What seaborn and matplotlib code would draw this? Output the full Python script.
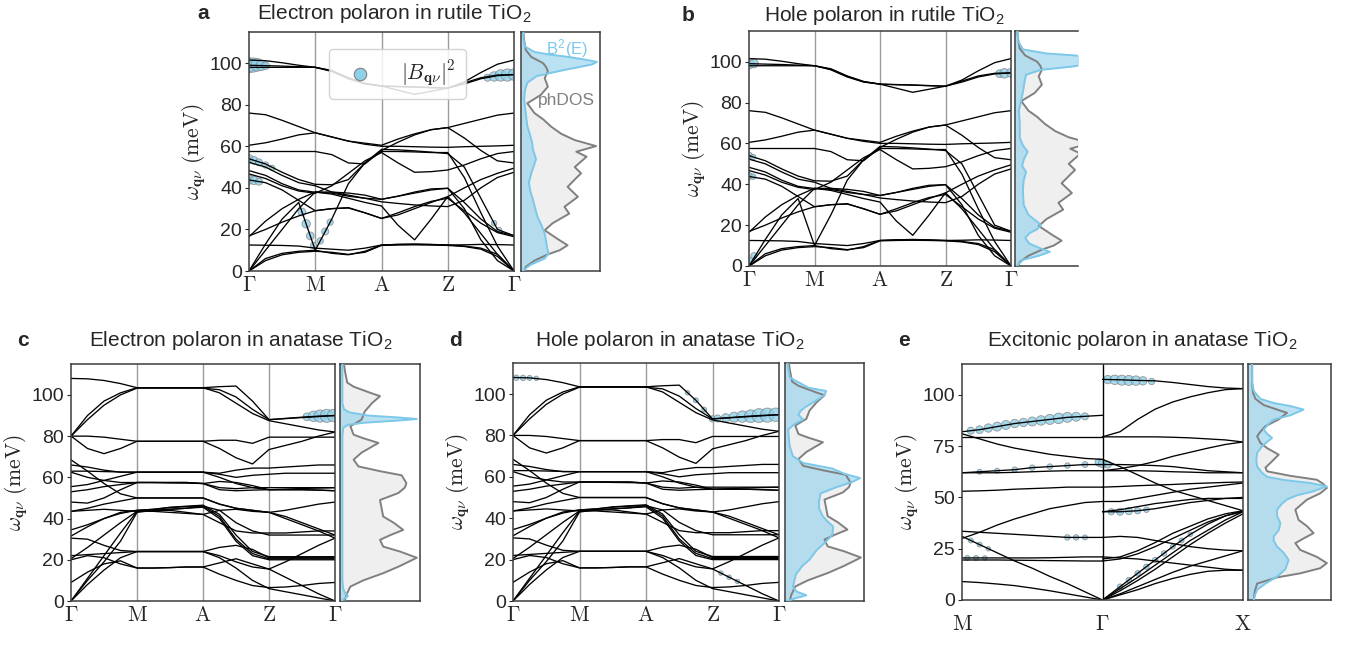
import numpy as np
import pandas as pd
import matplotlib
matplotlib.use("Agg")
import matplotlib.pyplot as plt
import seaborn as sns

# ========== DATA ==========
# k index: Gamma=0, M=4, A=8, Z=12, Gamma=16 (3 sample points in between)
K_PATH = list(range(17))
PATH_LABELS = [r"$\Gamma$", r"$\mathrm{M}$", r"$\mathrm{A}$", r"$\mathrm{Z}$", r"$\Gamma$"]

rutile_bands = [
    [101.5, 101.2, 100.2, 99.0, 98.0, 96.5, 93.0, 90.3, 89.0, 88.8, 88.6, 88.3, 88.0, 91.0, 95.5, 99.5, 101.5],
    [99.0, 98.8, 98.6, 98.3, 98.0, 96.0, 92.5, 90.0, 89.0, 87.0, 85.0, 86.5, 88.0, 90.0, 92.5, 94.0, 94.5],
    [98.0, 98.0, 98.0, 98.0, 98.0, 96.3, 92.8, 90.2, 89.0, 88.7, 88.5, 88.2, 88.0, 90.5, 93.0, 94.3, 94.5],
    [76.0, 75.2, 72.5, 69.5, 66.5, 64.5, 62.5, 61.5, 60.5, 63.5, 66.0, 68.0, 69.0, 71.0, 73.0, 75.0, 76.0],
    [60.5, 61.7, 63.5, 65.5, 66.5, 64.5, 62.5, 61.0, 60.0, 60.0, 59.8, 59.6, 59.5, 59.8, 60.0, 60.2, 60.5],
    [57.5, 57.5, 57.5, 57.5, 57.5, 56.0, 52.0, 51.5, 58.0, 62.0, 65.5, 68.0, 69.0, 64.0, 58.0, 53.0, 52.0],
    [54.0, 51.5, 47.5, 44.0, 41.7, 41.5, 44.0, 52.0, 58.5, 58.3, 57.8, 57.2, 56.5, 50.0, 35.0, 20.0, 17.0],
    [52.3, 50.0, 46.0, 42.5, 41.0, 38.0, 36.5, 35.0, 33.3, 32.5, 31.8, 31.3, 31.0, 34.0, 40.0, 45.0, 47.5],
    [48.3, 46.0, 42.0, 39.0, 37.9, 37.5, 36.0, 35.0, 34.5, 36.0, 38.0, 39.5, 39.8, 30.0, 15.0, 5.0, 0.0],
    [46.7, 44.5, 41.0, 38.5, 37.4, 41.0, 47.0, 53.0, 57.0, 52.0, 47.5, 47.8, 48.6, 51.0, 54.0, 56.5, 57.5],
    [43.8, 42.5, 39.0, 34.0, 29.0, 30.0, 30.5, 28.0, 25.3, 27.0, 30.0, 33.0, 35.8, 40.0, 44.0, 47.0, 49.5],
    [0.0, 13.0, 25.0, 33.0, 10.0, 25.0, 42.0, 52.0, 57.5, 57.5, 57.3, 57.0, 57.0, 45.0, 28.0, 12.0, 0.0],
    [0.0, 10.0, 20.0, 30.0, 38.0, 37.0, 35.0, 33.0, 31.3, 22.0, 15.0, 25.0, 35.8, 28.0, 18.0, 8.0, 0.0],
    [16.5, 24.0, 30.0, 34.5, 38.0, 38.0, 37.5, 36.5, 34.5, 36.0, 37.5, 39.0, 39.8, 33.0, 25.0, 19.0, 17.0],
    [16.9, 20.0, 23.5, 26.5, 29.0, 30.0, 30.3, 28.0, 25.3, 28.0, 31.0, 33.5, 35.0, 29.0, 23.0, 18.5, 16.5],
    [12.5, 12.4, 12.3, 12.0, 11.0, 10.5, 10.0, 11.0, 12.5, 12.8, 13.0, 12.8, 12.5, 12.6, 12.8, 12.7, 12.5],
    [0.0, 6.0, 8.5, 9.5, 10.0, 8.5, 7.8, 9.5, 12.5, 12.8, 12.8, 12.7, 12.5, 12.0, 11.0, 8.0, 0.0],
    [0.0, 5.0, 7.8, 9.0, 9.5, 9.0, 8.0, 9.0, 12.3, 12.5, 12.6, 12.5, 12.3, 11.8, 10.5, 7.0, 0.0],
]

anatase_bands = [
    [108.0, 107.8, 107.0, 105.5, 103.5, 103.5, 103.5, 103.5, 103.5, 104.0, 104.3, 97.0, 88.0, 88.6, 89.2, 89.7, 90.0],
    [80.0, 90.0, 97.0, 101.0, 103.5, 103.5, 103.5, 103.5, 103.5, 101.0, 96.0, 91.0, 87.5, 86.0, 84.5, 83.0, 82.0],
    [80.0, 88.0, 95.0, 100.0, 103.3, 103.3, 103.3, 103.3, 103.3, 102.5, 99.0, 93.0, 88.0, 88.5, 89.0, 89.5, 90.0],
    [80.0, 80.0, 79.5, 78.5, 77.5, 77.5, 77.5, 77.5, 77.5, 78.0, 78.0, 76.5, 79.5, 79.5, 79.5, 79.5, 79.5],
    [80.0, 74.0, 71.5, 74.0, 77.5, 77.5, 77.5, 77.5, 77.5, 74.0, 69.5, 66.5, 73.5, 75.5, 77.5, 80.0, 82.0],
    [68.5, 63.0, 57.0, 52.0, 50.0, 50.0, 50.0, 50.0, 50.0, 47.0, 45.0, 44.0, 43.0, 44.0, 45.5, 47.0, 48.0],
    [66.0, 65.0, 63.5, 62.5, 62.5, 62.5, 62.5, 62.5, 62.5, 62.0, 63.5, 64.5, 64.5, 65.0, 65.5, 66.0, 66.0],
    [63.0, 63.0, 62.8, 62.6, 62.5, 62.5, 62.5, 62.5, 62.5, 61.5, 60.0, 61.0, 61.5, 62.0, 62.0, 62.0, 62.0],
    [62.5, 60.0, 58.5, 57.5, 57.5, 57.5, 57.5, 57.5, 57.0, 58.0, 57.5, 56.0, 54.0, 54.0, 54.0, 53.8, 53.5],
    [55.5, 56.5, 58.5, 60.5, 62.5, 62.5, 62.5, 62.5, 62.5, 60.0, 57.0, 55.0, 54.0, 54.3, 54.6, 54.8, 55.0],
    [53.0, 54.0, 55.5, 56.5, 57.5, 57.5, 57.3, 57.2, 57.0, 55.0, 54.5, 55.0, 55.0, 55.0, 55.0, 55.0, 55.0],
    [48.0, 47.5, 50.0, 54.0, 57.5, 57.5, 57.5, 57.5, 57.0, 54.0, 53.5, 53.8, 54.0, 54.0, 54.0, 53.8, 53.5],
    [43.5, 45.0, 47.0, 48.5, 50.0, 50.0, 50.0, 50.0, 50.0, 47.0, 45.0, 44.0, 43.0, 40.0, 37.0, 34.0, 30.5],
    [43.5, 44.0, 44.5, 44.0, 43.5, 44.0, 44.0, 43.0, 42.0, 38.0, 34.0, 33.0, 33.0, 33.0, 33.5, 34.0, 34.0],
    [34.5, 37.0, 40.0, 42.5, 44.0, 44.5, 45.5, 46.0, 46.5, 42.0, 32.0, 24.0, 21.5, 21.5, 21.5, 21.5, 21.5],
    [31.5, 36.0, 40.0, 43.0, 44.0, 44.5, 45.3, 45.8, 46.0, 41.0, 30.0, 23.0, 20.5, 20.5, 20.5, 20.5, 20.5],
    [30.5, 30.0, 27.0, 24.5, 24.0, 24.0, 24.0, 24.0, 24.0, 22.0, 19.0, 16.5, 15.5, 19.0, 23.0, 27.0, 30.5],
    [22.0, 22.5, 23.0, 23.5, 24.0, 24.0, 24.0, 24.0, 24.0, 26.0, 27.0, 25.0, 21.0, 21.0, 21.0, 21.0, 21.0],
    [20.5, 26.0, 32.0, 38.0, 43.5, 44.0, 44.5, 45.0, 45.5, 40.0, 29.0, 22.0, 20.0, 20.0, 20.0, 20.0, 20.0],
    [20.0, 22.0, 21.0, 18.0, 16.0, 16.0, 16.2, 16.5, 16.5, 18.5, 20.5, 18.0, 15.5, 11.5, 7.5, 3.5, 0.0],
    [9.0, 14.0, 18.0, 19.5, 16.0, 16.0, 16.2, 16.5, 16.5, 13.0, 10.0, 7.5, 6.5, 6.8, 7.5, 8.5, 9.0],
    [0.0, 8.0, 15.0, 21.0, 24.0, 24.0, 24.0, 24.0, 24.0, 21.0, 16.0, 10.0, 6.0, 4.5, 3.0, 1.5, 0.0],
    [0.0, 11.0, 22.0, 33.0, 43.5, 43.5, 43.0, 42.5, 42.0, 44.0, 44.5, 43.5, 43.0, 41.0, 38.0, 35.0, 32.0],
    [0.0, 10.0, 19.0, 29.0, 43.0, 44.0, 44.5, 45.0, 46.0, 44.0, 38.0, 34.0, 32.0, 32.0, 32.0, 32.0, 32.0],
]

# panel e: M -> Gamma (k 0..8) and Gamma -> X (k 8..16)
K_LEFT = list(range(0, 9))
K_RIGHT = list(range(8, 17))
exc_left_bands = [
    [82.0, 83.0, 84.5, 86.0, 87.0, 88.0, 89.0, 89.5, 90.0],
    [81.0, 78.5, 76.0, 74.0, 72.5, 71.0, 70.0, 69.0, 68.5],
    [79.5, 79.5, 79.5, 79.5, 79.5, 79.5, 79.5, 79.5, 79.5],
    [62.0, 62.5, 63.0, 63.5, 64.5, 65.0, 65.5, 66.0, 66.0],
    [62.0, 62.0, 62.0, 62.2, 62.5, 62.8, 63.0, 63.0, 63.0],
    [53.0, 53.2, 53.5, 54.0, 54.3, 54.6, 55.0, 55.0, 55.0],
    [30.0, 33.0, 36.5, 39.5, 42.0, 44.5, 46.0, 47.5, 48.0],
    [33.5, 33.0, 32.5, 32.0, 31.5, 31.0, 30.5, 30.5, 30.5],
    [31.0, 27.0, 23.0, 19.0, 15.5, 11.5, 8.0, 4.0, 0.0],
    [20.5, 20.5, 20.5, 20.5, 20.5, 20.6, 20.8, 21.0, 21.0],
    [19.5, 19.5, 19.5, 19.4, 19.3, 19.2, 19.1, 19.0, 19.0],
    [9.0, 8.5, 7.8, 7.0, 5.8, 4.5, 3.0, 1.5, 0.0],
]
exc_right_bands = [
    [107.5, 107.3, 107.0, 106.8, 106.0, 105.0, 104.0, 103.3, 103.0],
    [79.5, 82.0, 88.0, 93.0, 96.5, 99.0, 101.0, 102.5, 103.0],
    [79.5, 79.5, 79.5, 79.5, 79.3, 79.0, 78.5, 78.0, 77.0],
    [63.0, 64.0, 65.5, 67.5, 70.0, 72.0, 74.0, 75.8, 77.0],
    [66.0, 66.0, 65.8, 65.5, 65.0, 64.0, 63.0, 62.5, 62.0],
    [68.5, 65.0, 61.0, 57.0, 53.5, 51.0, 48.5, 46.0, 43.5],
    [63.0, 63.0, 63.0, 62.8, 62.5, 62.3, 62.0, 62.0, 62.0],
    [55.0, 55.3, 55.7, 56.0, 56.3, 56.7, 57.0, 57.3, 57.5],
    [48.0, 48.0, 49.5, 51.0, 52.5, 54.0, 55.0, 56.0, 57.0],
    [43.0, 43.0, 43.5, 44.5, 46.0, 47.5, 48.5, 49.5, 50.0],
    [43.0, 44.0, 45.5, 47.0, 48.0, 49.0, 49.5, 49.5, 49.5],
    [30.5, 31.0, 30.5, 29.0, 27.5, 26.0, 25.0, 24.3, 24.0],
    [21.0, 20.5, 20.0, 19.0, 18.0, 17.0, 16.0, 15.0, 14.5],
    [20.0, 21.0, 24.0, 28.0, 32.5, 36.0, 39.5, 42.0, 43.5],
    [19.0, 20.0, 22.5, 26.0, 30.0, 34.0, 38.0, 41.0, 43.0],
    [0.0, 6.5, 13.0, 19.5, 26.0, 32.0, 37.0, 41.0, 43.5],
    [0.0, 5.5, 11.0, 17.0, 23.0, 29.0, 34.0, 39.0, 43.0],
    [0.0, 4.5, 9.5, 15.0, 21.0, 27.0, 32.5, 37.5, 42.0],
    [0.0, 3.0, 6.5, 10.0, 13.5, 16.5, 19.0, 21.5, 24.0],
    [0.0, 2.5, 5.0, 8.0, 10.5, 12.5, 14.0, 14.5, 14.5],
]

# |B_qnu|^2 blobs: k position, energy, relative weight
blob_a_k = [0, 0.25, 0.5, 0.75, 1.0, 0, 0.3, 0.6, 1.0, 1.4, 0, 0.3, 0.6, 3.2, 3.45, 3.7, 3.9, 4.3, 4.6, 4.9, 14.4, 14.8, 15.2, 15.6, 16.0, 14.8, 15.1]
blob_a_E = [99.0, 99.1, 99.2, 99.0, 98.8, 54.0, 53.2, 52.3, 51.0, 49.6, 44.0, 43.6, 43.0, 28.4, 22.7, 16.9, 12.3, 14.5, 19.0, 23.5, 93.0, 93.6, 94.1, 94.3, 94.5, 23.0, 19.7]
blob_a_w = [45, 40, 32, 22, 12, 14, 12, 10, 8, 6, 18, 14, 10, 12, 14, 12, 8, 8, 10, 8, 10, 18, 26, 30, 26, 6, 6]

blob_b_k = [0, 0.3, 0, 0.25, 0, 0.25, 0.15, 0.3, 15.3, 15.6, 16.0]
blob_b_E = [99.0, 99.1, 54.0, 53.3, 44.0, 43.7, 2.5, 5.0, 94.1, 94.3, 94.5]
blob_b_w = [22, 15, 10, 6, 10, 6, 10, 8, 12, 18, 16]

blob_c_k = [14.3, 14.7, 15.1, 15.5, 15.9]
blob_c_E = [89.4, 89.6, 89.75, 89.85, 90.0]
blob_c_w = [12, 22, 30, 34, 30]

blob_d_k = [0.2, 0.6, 1.0, 1.4, 10.5, 11.0, 11.5, 12.0, 12.3, 12.8, 13.3, 13.8, 14.3, 14.8, 15.3, 15.8, 12.5, 13.0, 13.5]
blob_d_E = [107.9, 107.8, 107.8, 107.6, 100.6, 97.0, 92.5, 88.0, 88.2, 88.5, 88.8, 89.1, 89.3, 89.6, 89.8, 90.0, 13.5, 11.5, 9.5]
blob_d_w = [6, 6, 5, 4, 4, 5, 5, 8, 10, 14, 20, 26, 32, 38, 40, 36, 4, 4, 4]

blob_e_k = [0.5, 1, 1.5, 2, 2.5, 3, 3.5, 4, 4.5, 5, 5.5, 6, 6.5, 7,
            1, 2, 3, 4, 5, 6, 7, 7.8, 8.0, 8.3,
            8.3, 8.7, 9.1, 9.5, 9.9, 10.3, 10.8,
            8.5, 9.0, 9.5, 10.0, 10.5,
            9.0, 9.5, 10.0, 10.5, 11.0, 11.5, 12.0, 12.5, 13.0,
            0.3, 0.8, 1.3, 6.0, 6.5, 7.0, 0.5, 1.0, 1.5]
blob_e_E = [82.5, 83.0, 83.8, 84.5, 85.3, 86.0, 86.5, 87.0, 87.5, 88.0, 88.5, 89.0, 89.3, 89.5,
            62.5, 63.0, 63.5, 64.5, 65.0, 65.5, 66.0, 67.0, 66.5, 66.0,
            107.4, 107.3, 107.1, 107.0, 106.9, 106.8, 106.5,
            43.0, 43.0, 43.3, 43.5, 44.0,
            6.5, 9.7, 13.0, 16.2, 19.5, 22.7, 26.0, 29.0, 32.0,
            20.5, 20.5, 20.5, 30.5, 30.5, 30.5, 29.0, 27.0, 25.0]
blob_e_w = [10, 12, 14, 16, 16, 14, 14, 16, 18, 20, 22, 20, 16, 10,
            5, 5, 6, 6, 6, 6, 7, 12, 14, 10,
            14, 18, 20, 20, 18, 14, 8,
            8, 10, 10, 8, 6,
            6, 6, 6, 6, 6, 6, 5, 5, 4,
            5, 5, 4, 6, 6, 5, 5, 5, 4]

# phonon DOS and B^2(E) (energy in meV, width normalised to the DOS box)
dos_rut_E = [0, 2, 5, 8, 10, 12.4, 15, 19.6, 23, 27.6, 30.9, 35.7, 40.5, 44, 47, 50, 55, 57.4, 60.1, 63, 66,
             69.5, 73, 76, 80.7, 84.7, 88.7, 92.8, 96, 98, 100, 103, 106.4, 111, 115]
dos_rut_v = [0.04, 0.06, 0.17, 0.34, 0.49, 0.59, 0.48, 0.30, 0.40, 0.61, 0.55, 0.72, 0.59, 0.68, 0.76, 0.68, 0.83,
             0.70, 0.95, 0.68, 0.51, 0.38, 0.28, 0.17, 0.08, 0.25, 0.34, 0.30, 0.34, 0.32, 0.28, 0.13, 0.06, 0.04, 0.03]

b2_a_E = [0, 3, 6, 8.4, 11, 14, 18, 22, 26, 30, 34.6, 38, 42.6, 47, 53.8, 58.6, 62, 66, 69.8, 76, 82.6, 87, 90.6,
          93.8, 96.6, 98, 99.4, 100.6, 101.8, 103, 104.2, 105.4, 108, 112, 115]
b2_a_v = [0.02, 0.12, 0.30, 0.35, 0.33, 0.32, 0.30, 0.26, 0.21, 0.18, 0.15, 0.12, 0.10, 0.13, 0.19, 0.15, 0.14,
          0.11, 0.08, 0.06, 0.04, 0.05, 0.08, 0.20, 0.53, 0.72, 0.90, 0.96, 0.80, 0.60, 0.35, 0.17, 0.05, 0.03, 0.03]

b2_b_E = [0, 3, 5, 6.9, 9, 11, 13.7, 16, 18, 20, 22, 25, 30, 37, 42, 46, 49, 52, 56, 59, 63, 70, 76, 85, 90, 93.6,
          96, 97.5, 99, 100.5, 102.5, 104, 106, 110, 115]
b2_b_v = [0.02, 0.10, 0.30, 0.44, 0.30, 0.18, 0.13, 0.18, 0.28, 0.33, 0.27, 0.17, 0.11, 0.10, 0.11, 0.14, 0.09,
          0.11, 0.16, 0.10, 0.06, 0.06, 0.05, 0.10, 0.12, 0.14, 0.33, 0.70, 1.00, 1.05, 0.95, 0.40, 0.10, 0.04, 0.03]

dos_ana_E = [0, 3, 7, 10, 13.5, 17, 21, 24, 26.4, 29.7, 32, 34.5, 38, 41, 45, 49, 52.4, 55, 57.2, 61, 63, 65.3,
             68.6, 72, 76.7, 79, 80.7, 84.8, 88, 92, 96, 99.4, 101, 104, 106, 112, 115]
dos_ana_v = [0.06, 0.08, 0.13, 0.29, 0.54, 0.75, 0.96, 0.75, 0.54, 0.50, 0.63, 0.79, 0.67, 0.54, 0.52, 0.50, 0.73,
             0.81, 0.83, 0.77, 0.50, 0.23, 0.17, 0.27, 0.48, 0.29, 0.17, 0.13, 0.27, 0.31, 0.40, 0.50, 0.38, 0.17,
             0.09, 0.06, 0.05]

b2_c_E = [0, 1, 2.5, 4, 6, 10, 20, 40, 60, 80, 84, 85.5, 86.5, 87.5, 88.3, 89, 90, 91.5, 93, 96, 100, 110, 115]
b2_c_v = [0.02, 0.05, 0.10, 0.06, 0.04, 0.03, 0.03, 0.03, 0.03, 0.03, 0.04, 0.10, 0.30, 0.70, 0.96, 0.75, 0.35,
          0.12, 0.05, 0.03, 0.03, 0.03, 0.03]

b2_d_E = [0, 1.5, 2.8, 4.5, 6.8, 10, 13, 17, 20, 22, 24.6, 28, 32, 36, 38, 40.8, 45, 48, 52, 55, 57.5, 59.4, 61.5,
          64, 66.7, 70, 74.8, 78, 82.8, 85.5, 87.7, 90, 92, 94, 97, 99.5, 101.5, 103, 105.5, 108, 115]
b2_d_v = [0.02, 0.15, 0.27, 0.15, 0.10, 0.12, 0.14, 0.22, 0.31, 0.35, 0.40, 0.50, 0.60, 0.61, 0.55, 0.48, 0.43,
          0.43, 0.45, 0.65, 0.85, 0.95, 0.75, 0.60, 0.23, 0.10, 0.06, 0.05, 0.04, 0.12, 0.23, 0.17, 0.20, 0.27,
          0.40, 0.50, 0.52, 0.30, 0.18, 0.06, 0.03]

dos_e_E = [0, 4, 8, 11, 13, 15.5, 18, 21, 24.4, 27.7, 30, 32.6, 36, 39, 44, 48.9, 52, 54.6, 56.5, 58.6, 60.5, 62.7,
           64.5, 66.8, 70.8, 74, 76.5, 79.8, 82, 84.7, 88, 91.2, 92.8, 95, 98, 101, 106, 115]
dos_e_v = [0.07, 0.08, 0.11, 0.35, 0.63, 0.87, 0.95, 0.83, 0.63, 0.57, 0.67, 0.79, 0.71, 0.61, 0.57, 0.71, 0.87,
           0.95, 0.91, 0.83, 0.51, 0.23, 0.21, 0.27, 0.37, 0.23, 0.15, 0.11, 0.15, 0.21, 0.37, 0.47, 0.35, 0.19,
           0.09, 0.06, 0.05, 0.05]

b2_e_E = [0, 3, 5, 8, 11.4, 15, 19.5, 23, 26, 29, 31, 34, 37.5, 41, 44, 47, 49, 51, 53, 55.4, 57, 58.5, 60, 62, 65,
          68, 71.7, 75, 77, 79, 81, 83, 86, 88, 90, 92.8, 94.5, 96, 98, 101.8, 106, 115]
b2_e_v = [0.07, 0.09, 0.11, 0.21, 0.35, 0.45, 0.49, 0.43, 0.35, 0.31, 0.31, 0.37, 0.39, 0.35, 0.35, 0.41, 0.47,
          0.59, 0.79, 0.95, 0.75, 0.43, 0.23, 0.17, 0.11, 0.10, 0.11, 0.17, 0.23, 0.29, 0.23, 0.19, 0.25, 0.31,
          0.51, 0.67, 0.51, 0.31, 0.15, 0.07, 0.05, 0.05]

# ========== STYLE ==========
sns.set_style("ticks")
plt.rcParams["font.family"] = ["Liberation Sans", "DejaVu Sans"]
plt.rcParams["mathtext.fontset"] = "cm"

BLUE_LINE = "#7cc8ea"
BLUE_FILL = "#8fd0ea"
GRAY_LINE = "#808080"
GRAY_FILL = "#efefef"
SPINE = "#3c3c3c"
YLABEL = r"$\omega_{\mathbf{q}\nu}\ (\mathrm{meV})$"
BLOB_SCALE = 2.6

W, H = 1348, 645
fig = plt.figure(figsize=(W / 100, H / 100), dpi=100)


def box(l, t, r, b):
    return fig.add_axes([l / W, 1 - b / H, (r - l) / W, (b - t) / H])


def draw_bands(ax, bands, kpos, start=0):
    rows = []
    for i, band in enumerate(bands):
        for k, e in zip(kpos, band):
            rows.append((start + i, k, e))
    df = pd.DataFrame(rows, columns=["band", "k", "E"])
    sns.lineplot(data=df, x="k", y="E", units="band", estimator=None, sort=False,
                 color="black", lw=0.95, ax=ax, legend=False)


def blobs(ax, k, e, w):
    ax.scatter(k, e, s=np.array(w) * BLOB_SCALE, facecolor=BLUE_FILL, edgecolor="gray",
               linewidths=0.6, alpha=0.8, zorder=1.5)


def style_band_ax(ax, ticks, labels, vlines, yticks, xpad=3):
    ax.set_xlim(0, 16)
    ax.set_ylim(0, 115)
    for k in vlines:
        ax.axvline(k, color="#9a9a9a", lw=1.0, zorder=0)
    ax.set_xticks(ticks)
    ax.set_xticklabels(labels)
    ax.set_yticks(yticks)
    ax.tick_params(axis="x", labelsize=15.5, length=0, pad=xpad)
    ax.tick_params(axis="y", labelsize=14, length=3, width=0.8, pad=2)
    ax.set_xlabel("")
    ax.set_ylabel(YLABEL, fontsize=15.5, labelpad=1)
    for sp in ax.spines.values():
        sp.set_color(SPINE)
        sp.set_linewidth(1.1)


def draw_dos(ax, dos_E, dos_v, b2_E, b2_v, xmax=1.0):
    ax.fill_betweenx(dos_E, 0, dos_v, color=GRAY_FILL, lw=0, zorder=1)
    ax.fill_betweenx(b2_E, 0, b2_v, color=BLUE_FILL, alpha=0.6, lw=0, zorder=2)
    ax.plot(dos_v, dos_E, color=GRAY_LINE, lw=1.4, zorder=3)
    ax.plot(b2_v, b2_E, color=BLUE_LINE, lw=1.4, zorder=4)
    ax.set_xlim(0, xmax)
    ax.set_ylim(0, 115)
    ax.set_xticks([])
    ax.set_yticks([])
    for sp in ax.spines.values():
        sp.set_color(SPINE)
        sp.set_linewidth(1.1)


def panel_title(letter, lx, text, tx, y):
    fig.text(lx / W, 1 - y / H, letter, fontsize=15, fontweight="bold", ha="center", va="baseline")
    fig.text(tx / W, 1 - y / H, text, fontsize=15, ha="center", va="baseline")


KT = [0, 4, 8, 12, 16]
Y20 = [0, 20, 40, 60, 80, 100]

# ---------- a ----------
ax_a = box(249, 32, 514, 271)
draw_bands(ax_a, rutile_bands, K_PATH)
blobs(ax_a, blob_a_k, blob_a_E, blob_a_w)
style_band_ax(ax_a, KT, PATH_LABELS, [4, 8, 12], Y20)
ax_a.scatter([], [], s=80, facecolor=BLUE_FILL, edgecolor="gray", linewidths=0.8,
             label=r"$|B_{\mathbf{q}\nu}|^2$")
ax_a.legend(loc="upper left", bbox_to_anchor=(0.262, 0.975), fontsize=15.5, handletextpad=0.9,
            borderpad=0.45, framealpha=0.85)
dos_a = box(521, 32, 600, 271)
draw_dos(dos_a, dos_rut_E, dos_rut_v, b2_a_E, b2_a_v)
dos_a.text(0.58, 107, r"B$^\mathregular{2}$(E)", color=BLUE_LINE, fontsize=12, ha="center", va="center")
dos_a.text(0.58, 82, "phDOS", color=GRAY_LINE, fontsize=12.5, ha="center", va="center")
panel_title("a", 203, r"Electron polaron in rutile TiO$_\mathregular{2}$", 394, 19)

# ---------- b ----------
ax_b = box(749, 31, 1011, 266)
draw_bands(ax_b, rutile_bands, K_PATH)
blobs(ax_b, blob_b_k, blob_b_E, blob_b_w)
style_band_ax(ax_b, KT, PATH_LABELS, [4, 8, 12], Y20)
dos_b = box(1015, 31, 1078, 266)
draw_dos(dos_b, dos_rut_E, dos_rut_v, b2_b_E, b2_b_v, xmax=63 / 79)
dos_b.spines["right"].set_visible(False)
panel_title("b", 688, r"Hole polaron in rutile TiO$_\mathregular{2}$", 885, 21)

# ---------- c ----------
ax_c = box(71, 364, 335, 601)
draw_bands(ax_c, anatase_bands, K_PATH)
blobs(ax_c, blob_c_k, blob_c_E, blob_c_w)
style_band_ax(ax_c, KT, PATH_LABELS, [4, 8, 12], Y20)
dos_c = box(340, 364, 420, 601)
draw_dos(dos_c, dos_ana_E, dos_ana_v, b2_c_E, b2_c_v)
panel_title("c", 23, r"Electron polaron in anatase TiO$_\mathregular{2}$", 241, 346)

# ---------- d ----------
ax_d = box(513, 363, 779, 601)
draw_bands(ax_d, anatase_bands, K_PATH)
blobs(ax_d, blob_d_k, blob_d_E, blob_d_w)
style_band_ax(ax_d, KT, PATH_LABELS, [4, 8, 12], Y20)
dos_d = box(785, 363, 864, 601)
draw_dos(dos_d, dos_ana_E, dos_ana_v, b2_d_E, b2_d_v)
panel_title("d", 455, r"Hole polaron in anatase TiO$_\mathregular{2}$", 670, 346)

# ---------- e ----------
ax_e = box(962, 364, 1243, 600)
draw_bands(ax_e, exc_left_bands, K_LEFT)
draw_bands(ax_e, exc_right_bands, K_RIGHT, start=100)
blobs(ax_e, blob_e_k, blob_e_E, blob_e_w)
style_band_ax(ax_e, [0, 8, 16], [r"$\mathrm{M}$", r"$\Gamma$", r"$\mathrm{X}$"], [], [0, 25, 50, 75, 100], xpad=10)
ax_e.axvline(8, color="black", lw=1.0, zorder=2.5)
dos_e = box(1248, 364, 1331, 600)
draw_dos(dos_e, dos_e_E, dos_e_v, b2_e_E, b2_e_v)
panel_title("e", 904, r"Excitonic polaron in anatase TiO$_\mathregular{2}$", 1142, 346)

fig.savefig("out.png", dpi=100)
